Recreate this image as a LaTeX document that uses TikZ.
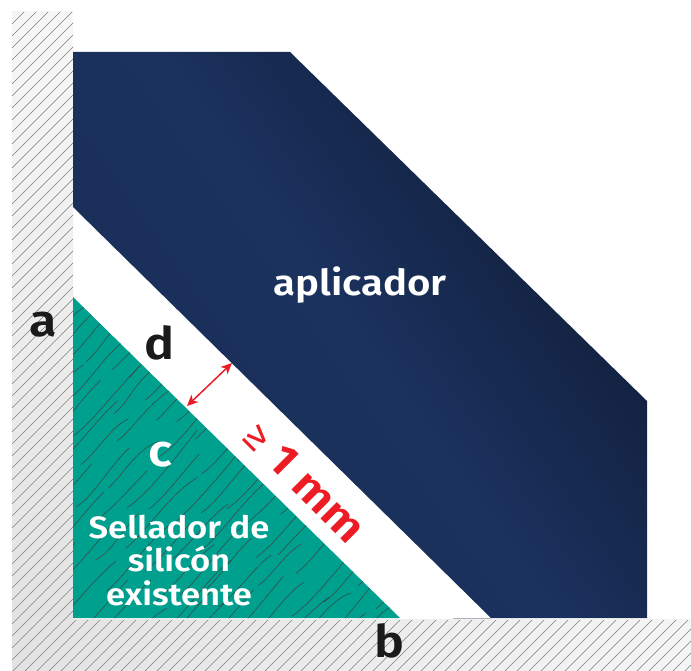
\documentclass[tikz,border=0pt]{standalone}
\usepackage{fontspec}
\setmainfont[FakeStretch=1.12,BoldFont={Fira Sans SemiBold}]{Fira Sans}
\usetikzlibrary{arrows.meta}
\definecolor{sealgreen}{RGB}{0,160,143}
\definecolor{appblue}{RGB}{27,50,94}
\definecolor{appdark}{RGB}{15,27,53}
\definecolor{gapred}{RGB}{237,28,36}
\definecolor{labelblack}{RGB}{26,26,26}
\tikzset{
  hatchline/.style={draw=black!50,line width=0.6pt},
  crack/.style={draw=black!75,line width=0.5pt},
  whitelabel/.style={text=white,font=\bfseries\fontsize{#1}{34}\selectfont,align=center,inner sep=0pt},
  blacklabel/.style={text=labelblack,font=\bfseries\fontsize{45}{45}\selectfont,inner sep=0pt},
  gaparrow/.style={draw=gapred,line width=1.5pt,{Stealth[length=11pt,width=10pt,inset=3pt]}-{Stealth[length=11pt,width=10pt,inset=3pt]}}
}
\begin{document}
\begin{tikzpicture}[x=1bp,y=-1bp]
  \useasboundingbox (0,0) rectangle (691,671);
  % wall
  \shade[top color=white!97!black,bottom color=black!11] (12,12) rectangle (73,619);
  \shade[left color=black!11,right color=white!96!black] (12,619) rectangle (691,671);
  \begin{scope}
    \clip (12,12) -- (73,12) -- (73,620) -- (691,620) -- (691,671) -- (12,671) -- cycle;
    \foreach \k in {0,...,113}
      \draw[hatchline] (12+12*\k,0) -- ++(-680,680);
  \end{scope}
  % aplicador
  \shade[left color=appblue!92!black,right color=appdark,middle color=appblue,shading angle=125]
    (73,52) -- (290,52) -- (647,401) -- (647,618) -- (491,618) -- (73,207) -- cycle;
  \draw[blue!20!black!30,line width=0.8pt] (453,618.7) -- (491,618.7);
  % sellador
  \fill[sealgreen] (73,297) -- (400,618) -- (73,618) -- cycle;
  \begin{scope}
    \clip (73,297) -- (400,618) -- (73,618) -- cycle;
    \pgfmathsetseed{4127}
    \foreach \row in {0,...,33}
      \foreach \col in {0,...,2}{
        \pgfmathsetmacro{\pp}{262+\row*13.5+rand*3}
        \pgfmathsetmacro{\qq}{\col*93+\row*37+rand*16}
        \pgfmathsetmacro{\qb}{-420+\qq-280*floor(\qq/280)}
        \pgfmathsetmacro{\sx}{(\pp+\qb)*0.7071}
        \pgfmathsetmacro{\sy}{(\pp-\qb)*0.7071}
        \pgfmathsetmacro{\lenc}{42+rnd*34}
        \pgfmathsetmacro{\ax}{\sx+\lenc*0.30+rand*3}
        \pgfmathsetmacro{\ay}{\sy-\lenc*0.22+rand*3}
        \pgfmathsetmacro{\bx}{\sx+\lenc*0.62+rand*5}
        \pgfmathsetmacro{\by}{\sy-\lenc*0.72+rand*5}
        \pgfmathsetmacro{\ex}{\sx+\lenc}
        \pgfmathsetmacro{\ey}{\sy-\lenc*(1.02+0.1*rand)}
        \draw[crack] (\sx,\sy) .. controls (\ax,\ay) and (\bx,\by) .. (\ex,\ey);
      }
  \end{scope}
  % gap arrow
  \coordinate (gaplow) at (187,406);
  \coordinate (gaphigh) at (232,363);
  \draw[gaparrow] (gaplow) -- (gaphigh);
  % labels
  \node[whitelabel=36] (aplicador) at (360,285) {aplicador};
  \node[whitelabel=31] (sellador) at (179,560.5) {Sellador de\\silicón\\existente};
  \node[blacklabel] (a) at (43,325) {a};
  \node[blacklabel] (b) at (389,641) {b};
  \node[blacklabel] (d) at (160,343) {d};
  \node[blacklabel,text=white] (c) at (160,455) {c};
  \node[text=gapred,rotate=-45,inner sep=0pt,font=\bfseries\fontsize{44}{44}\selectfont] (gap) at (305,482)
    {{\mdseries\fontsize{40}{40}\selectfont ≥} 1 mm};
\end{tikzpicture}
\end{document}
